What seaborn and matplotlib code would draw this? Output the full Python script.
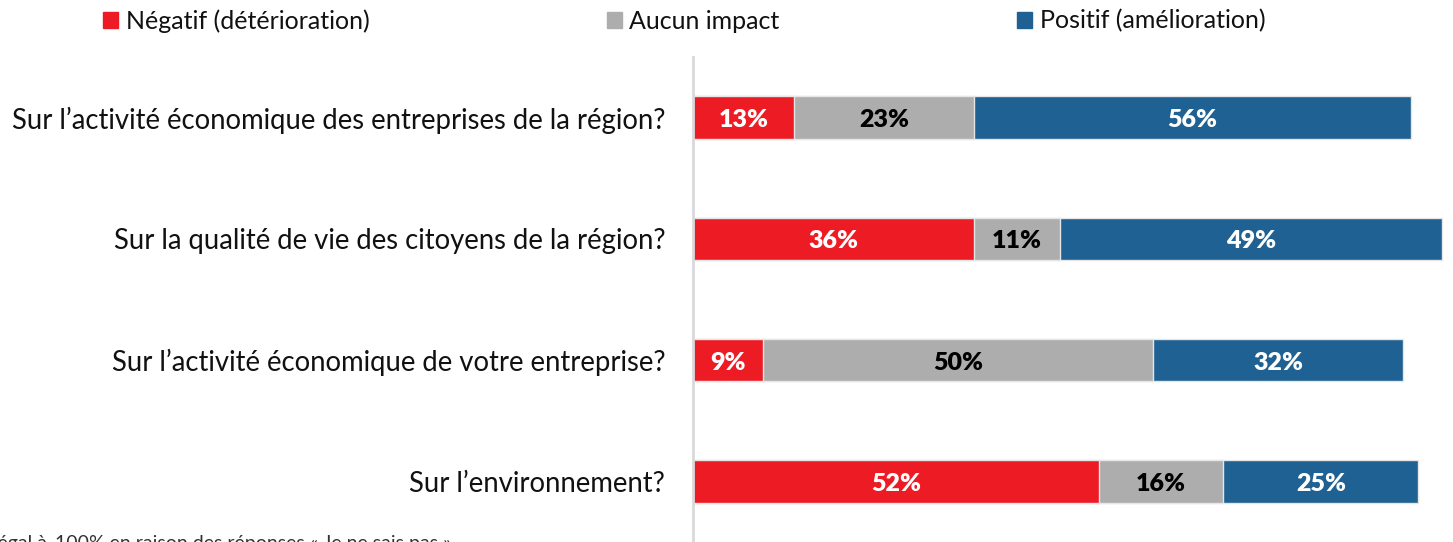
import matplotlib.pyplot as plt
import numpy as np
import pandas as pd
import seaborn as sns


# Data
questions = ['Sur l’activité économique des entreprises de la région?',
             'Sur la qualité de vie des citoyens de la région?',
             'Sur l’activité économique de votre entreprise?',
             'Sur l’environnement?']
negatif = [13, 36, 9, 52]
aucun = [23, 11, 50, 16]
positif = [56, 49, 32, 25]
series = ['Négatif (détérioration)', 'Aucun impact', 'Positif (amélioration)']
colors = ['#ed1c24', '#adadad', '#1f6192']
label_colors = ['white', 'black', 'white']

sns.set_theme(style='white')
plt.rcParams['font.family'] = ['Lato', 'DejaVu Sans']

df = pd.DataFrame({'question': questions, 'neg': negatif,
                   'none': aucun, 'pos': positif})
df['c1'] = df['neg']
df['c2'] = df['neg'] + df['none']
df['c3'] = df['c2'] + df['pos']

fig = plt.figure(figsize=(14.53, 5.42), dpi=100)
ax = fig.add_axes([693/1453, 0, 780/1453, 1 - 57/542])

# stacked bars: draw cumulative totals from the longest to the shortest
for col, c in zip(['c3', 'c2', 'c1'], colors[::-1]):
    sns.barplot(data=df, y='question', x=col, color=c, orient='h',
                width=0.35, edgecolor='#e6e6e6', linewidth=1, ax=ax,
                saturation=1)

ax.set_xlim(0, 100)
ax.set_ylim(3.5, -0.5)
ax.set_xlabel('')
ax.set_ylabel('')
ax.set_xticks([])
ax.tick_params(axis='y', length=0, labelsize=19.8, pad=20)
for lab in ax.get_yticklabels():
    lab.set_color('#111111')
for s in ['top', 'right', 'bottom']:
    ax.spines[s].set_visible(False)
ax.spines['left'].set_color('#d9d9d9')
ax.spines['left'].set_linewidth(2)

# value labels in segment centres
starts = [np.zeros(len(df)), df['c1'].values, df['c2'].values]
widths = [df['neg'].values, df['none'].values, df['pos'].values]
for st, w, tc in zip(starts, widths, label_colors):
    for i in range(len(df)):
        ax.text(st[i] + w[i] / 2, i + 0.02, '{}%'.format(w[i]), ha='center',
                va='center', color=tc, fontsize=18, fontweight='heavy')

# legend
handles = [plt.Rectangle((0, 0), 1, 1, color=c) for c in colors]
fig.legend(handles, series, loc='center left', ncol=3,
           bbox_to_anchor=(93/1453, 1 - 21/542), frameon=False,
           fontsize=18, handlelength=0.6, handleheight=0.6,
           handletextpad=0.3, columnspacing=9.5, borderaxespad=0,
           labelcolor='#111111')

# note at the bottom, mostly cut off
fig.text(55/1453, -0.013, '100% en raison des réponses « Je ne sais pas »',
         ha='left', va='baseline', fontsize=14, color='#333333')
fig.text(52/1453, -0.013, '* Le total n’est pas égal à ', ha='right',
         va='baseline', fontsize=14, color='#333333')

fig.savefig('out.png', dpi=100)
